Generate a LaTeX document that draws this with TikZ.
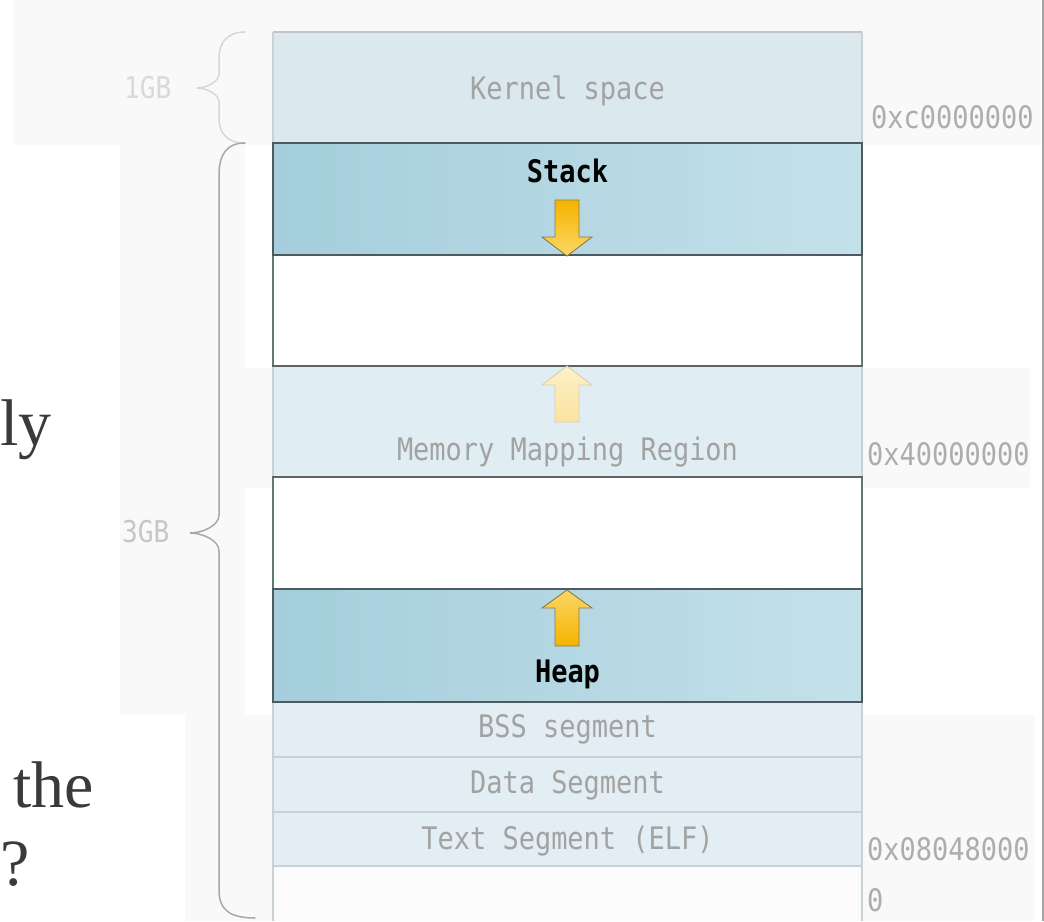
\documentclass[tikz,border=0pt]{standalone}
\usepackage{fontspec}
\newfontfamily\segfont[FakeStretch=0.87]{DejaVu Sans Mono}
\newfontfamily\slidefont{Liberation Serif}

\definecolor{panelgray}{HTML}{F9F9F9}
\definecolor{kernelfill}{HTML}{DBE8EE}
\definecolor{mmapfill}{HTML}{E0EDF2}
\definecolor{segfill}{HTML}{E2EEF3}
\definecolor{bottomfill}{HTML}{FBFBFB}
\definecolor{hotL}{HTML}{A4CEDC}
\definecolor{hotR}{HTML}{C4E1EA}
\definecolor{segtext}{HTML}{A2A2A2}
\definecolor{addrtext}{HTML}{ADADAD}
\definecolor{sizetextA}{HTML}{D9D9D9}
\definecolor{sizetextB}{HTML}{C6C6C6}
\definecolor{fadeedge}{HTML}{C8D2D6}
\definecolor{topedge}{HTML}{C4C4C4}
\definecolor{gapsidecol}{HTML}{5E7D6E}
\definecolor{gapedgecol}{HTML}{5C6467}
\definecolor{hotedgecol}{HTML}{4E5A5F}
\definecolor{arrowDeep}{HTML}{F5B300}
\definecolor{arrowPale}{HTML}{FCD766}
\definecolor{arrowEdge}{HTML}{8C7B45}
\definecolor{ghostTop}{HTML}{FDF0C8}
\definecolor{ghostBottom}{HTML}{FBE3A0}
\definecolor{ghostEdge}{HTML}{D9D0B0}
\definecolor{braceA}{HTML}{D7D7D7}
\definecolor{braceB}{HTML}{A8A8A8}
\definecolor{edgegray}{HTML}{A5A5A5}
\definecolor{slideink}{HTML}{3A3A3A}

\begin{document}
\begin{tikzpicture}[x=1pt,y=-1pt,
  panel/.style={fill=panelgray},
  seglabel/.style={inner sep=0pt, text=segtext, font=\segfont\fontsize{31}{36}\selectfont},
  hotlabel/.style={inner sep=0pt, text=black, font=\segfont\bfseries\fontsize{31}{36}\selectfont},
  addrlabel/.style={inner sep=0pt, text=addrtext, font=\segfont\fontsize{31}{36}\selectfont},
  sizelabel/.style={inner sep=0pt, font=\segfont\fontsize{30}{36}\selectfont},
  slidetext/.style={inner sep=0pt, text=slideink, font=\slidefont\fontsize{66}{72}\selectfont},
  fadeline/.style={draw=fadeedge, line width=2pt},
  gapside/.style={draw=gapsidecol, line width=1.6pt},
  gapedge/.style={draw=gapedgecol, line width=2.2pt},
  hotedge/.style={draw=hotedgecol, line width=2.4pt},
  growarrow/.style={draw=arrowEdge, line width=0.9pt, line join=miter},
  ghostarrow/.style={draw=ghostEdge, line width=0.9pt, line join=miter, top color=ghostTop, bottom color=ghostBottom},
  bracepath/.style={line width=1.5pt, line cap=round}
]
\useasboundingbox (0,0) rectangle (1044,921);
\fill[white] (0,0) rectangle (1044,921);

% faint backing panels
\fill[panel] (13,0) rectangle (1041,145);
\fill[panel] (120,145) rectangle (245,715);
\fill[panel] (245,368) rectangle (1030,488);
\fill[panel] (185,715) rectangle (1035,921);

% memory rows
\fill[kernelfill] (273,32) rectangle (862,143);
\shade[left color=hotL, right color=hotR] (273,143) rectangle (862,255);
\fill[white] (273,255) rectangle (862,366);
\fill[mmapfill] (273,366) rectangle (862,477);
\fill[white] (273,477) rectangle (862,589);
\shade[left color=hotL, right color=hotR] (273,589) rectangle (862,702);
\fill[segfill] (273,702) rectangle (862,866);
\fill[bottomfill] (273,866) rectangle (862,921);

% light outlines of the faded rows
\draw[draw=topedge, line width=2pt] (273,32) -- (862,32);
\draw[fadeline] (273,32) -- (273,921);
\draw[fadeline] (862,32) -- (862,921);
\draw[fadeline] (273,757) -- (862,757);
\draw[fadeline] (273,812) -- (862,812);
\draw[fadeline] (273,866) -- (862,866);

% free gaps between stack, mappings and heap
\draw[gapside] (273,255) -- (273,366);
\draw[gapside] (862,255) -- (862,366);
\draw[gapside] (273,477) -- (273,589);
\draw[gapside] (862,477) -- (862,589);
\draw[gapedge] (272,366) -- (863,366);
\draw[gapedge] (272,477) -- (863,477);

% stack and heap frames
\draw[hotedge] (273,143) rectangle (862,255);
\draw[hotedge] (273,589) rectangle (862,702);

% growth arrows
\draw[growarrow, top color=arrowDeep, bottom color=arrowPale]
  (555,200) -- (579,200) -- (579,237) -- (592,237) -- (567,256) -- (542,237) -- (555,237) -- cycle;
\draw[growarrow, top color=arrowPale, bottom color=arrowDeep]
  (567,590) -- (592,608) -- (579,608) -- (579,646) -- (555,646) -- (555,608) -- (542,608) -- cycle;
\draw[ghostarrow]
  (567,366) -- (592,385) -- (579,385) -- (579,422) -- (555,422) -- (555,385) -- (542,385) -- cycle;

% row labels
\node[seglabel, anchor=base] (kernel) at (567.5,99) {Kernel space};
\node[hotlabel, anchor=base] (stack) at (567.5,182) {Stack};
\node[seglabel, anchor=base] (mmap) at (567.5,460) {Memory Mapping Region};
\node[hotlabel, anchor=base] (heap) at (567.5,682) {Heap};
\node[seglabel, anchor=base] (bss) at (567.5,737) {BSS segment};
\node[seglabel, anchor=base] (data) at (567.5,793) {Data Segment};
\node[seglabel, anchor=base] (textseg) at (567.5,849) {Text Segment (ELF)};

% addresses
\node[addrlabel, anchor=base west] (addrC) at (871,128) {0xc0000000};
\node[addrlabel, anchor=base west] (addr4) at (867,465) {0x40000000};
\node[addrlabel, anchor=base west] (addr08) at (867,860) {0x08048000};
\node[addrlabel, anchor=base west] (addr0) at (867,911) {0};

% size braces
\draw[bracepath, draw=braceA]
  (245,32) .. controls (228,32) and (219,42) .. (219,58) -- (219,74)
  .. controls (219,82) and (206,88) .. (197,88)
  .. controls (206,88) and (219,94) .. (219,102) -- (219,118)
  .. controls (219,134) and (228,143) .. (245,143);
\draw[bracepath, draw=braceB]
  (245,143) .. controls (228,143) and (219,153) .. (219,175) -- (219,515)
  .. controls (219,526) and (202,533) .. (190,533)
  .. controls (202,533) and (219,540) .. (219,551) -- (219,890)
  .. controls (219,910) and (230,918) .. (255,918);
\node[sizelabel, text=sizetextA, anchor=base west] (oneGB) at (124,98) {1GB};
\node[sizelabel, text=sizetextB, anchor=base west] (threeGB) at (122,542) {3GB};

% slide text around the figure
\node[slidetext, anchor=base east] (ly) at (52,445) {ly};
\node[slidetext, anchor=base east] (the) at (94,807) {the};
\node[slidetext, anchor=base east] (qmark) at (30,885) {?};

% right border of the frame
\draw[draw=edgegray, line width=2pt] (1042.5,0) -- (1042.5,921);
\end{tikzpicture}
\end{document}
